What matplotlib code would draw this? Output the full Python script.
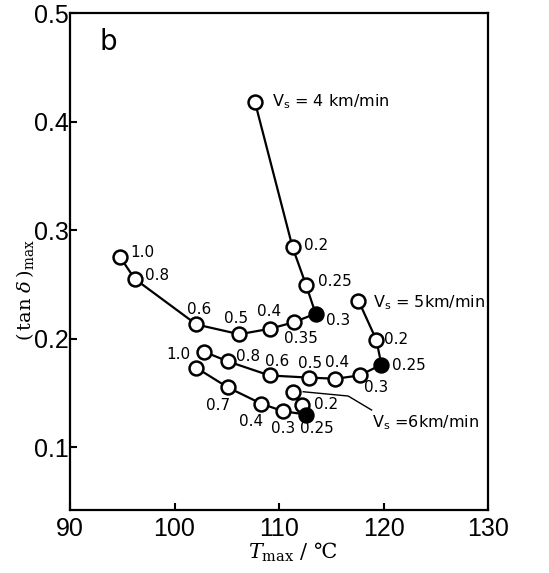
import matplotlib
matplotlib.use("Agg")
import matplotlib.pyplot as plt
import matplotlib.transforms as mtransforms
from matplotlib.lines import Line2D

plt.rcParams['font.family'] = ['DejaVu Sans']
plt.rcParams['mathtext.fontset'] = 'dejavuserif'

# ---- data ----
t4 = [107.7, 111.3, 112.6, 113.5, 111.4, 109.1, 106.2, 102.1, 96.2, 94.8]
d4 = [0.418, 0.284, 0.249, 0.223, 0.215, 0.209, 0.204, 0.213, 0.255, 0.275]
lab4 = ["", "0.2", "0.25", "0.3", "0.35", "0.4", "0.5", "0.6", "0.8", "1.0"]
fill4 = [False, False, False, True, False, False, False, False, False, False]

t5 = [117.6, 119.3, 119.8, 117.7, 115.4, 112.9, 109.1, 105.1, 102.8]
d5 = [0.235, 0.199, 0.176, 0.166, 0.163, 0.164, 0.166, 0.179, 0.188]
lab5 = ["", "0.2", "0.25", "0.3", "0.4", "0.5", "0.6", "0.8", "1.0"]
fill5 = [False, False, True, False, False, False, False, False, False]

t6 = [111.3, 112.2, 112.6, 110.4, 108.3, 105.1, 102.1]
d6 = [0.151, 0.139, 0.130, 0.133, 0.140, 0.155, 0.173]
lab6 = ["", "0.2", "0.25", "0.3", "0.4", "0.7", ""]
fill6 = [False, False, True, False, False, False, False]

series_names = ["V$_\\mathsf{s}$ = 4 km/min", "V$_\\mathsf{s}$ = 5km/min", "V$_\\mathsf{s}$ =6km/min"]

xticks = [90, 100, 110, 120, 130]
yticks = [0.1, 0.2, 0.3, 0.4, 0.5]

# ---- label layout (pixel offsets: dx right, dy up, ha) ----
off4 = [None, (11, 2, 'left'), (12, 4, 'left'), (10, -7, 'left'), (7, -16, 'center'),
        (-1, 17, 'center'), (-3, 16, 'center'), (3, 15, 'center'), (10, 3, 'left'), (10, 5, 'left')]
off5 = [None, (8, 0, 'left'), (11, -1, 'left'), (17, -12, 'center'), (2, 16, 'center'),
        (1, 14, 'center'), (8, 14, 'center'), (8, 5, 'left'), (-13, -3, 'right')]
off6 = [None, (12, 0, 'left'), (11, -14, 'center'), (0, -17, 'center'), (-10, -18, 'center'),
        (-10, -18, 'center'), None]

fig = plt.figure(figsize=(5.49, 5.73), dpi=100)
ax = fig.add_axes([0.1275, 0.110, 0.7615, 0.867])
ax.set_xlim(90, 130)
ax.set_ylim(0.042, 0.5)

lw = 1.6
ms = 10
for t, d, labs, fills, offs in [(t4, d4, lab4, fill4, off4), (t5, d5, lab5, fill5, off5), (t6, d6, lab6, fill6, off6)]:
    ax.plot(t, d, '-', color='black', lw=lw, zorder=2)
    for x, y, f in zip(t, d, fills):
        ax.plot([x], [y], 'o', ms=ms, mfc='black' if f else 'white', mec='black', mew=1.8, zorder=3)
    for x, y, s, o in zip(t, d, labs, offs):
        if s and o:
            ax.annotate(s, (x, y), xytext=(o[0], o[1]), textcoords='offset pixels',
                        ha=o[2], va='center', fontsize=11)

# series labels
ax.annotate(series_names[0], (t4[0], d4[0]), xytext=(17, 0), textcoords='offset pixels',
            ha='left', va='center', fontsize=11.5)
ax.annotate(series_names[1], (t5[0], d5[0]), xytext=(15, -2), textcoords='offset pixels',
            ha='left', va='center', fontsize=11.5)
ax.annotate(series_names[2], (t6[0], d6[0]), xytext=(79, -31), textcoords='offset pixels',
            ha='left', va='center', fontsize=11.5)

# leader line for Vs = 6 (pixel offsets from the first point)
px = [10.6, 55.6, 79.0]
py = [0.0, -4.3, -18.3]
p0 = ax.transData.transform((t6[0], d6[0]))
line = Line2D([p0[0] + a for a in px], [p0[1] + b for b in py],
              transform=mtransforms.IdentityTransform(), color='black', lw=1.0)
fig.add_artist(line)

ax.set_xticks(xticks)
ax.set_xticklabels([str(v) for v in xticks], family='Liberation Sans')
ax.set_yticks(yticks)
ax.set_yticklabels([f"{v:.1f}" for v in yticks], family='Liberation Sans')
ax.tick_params(direction='in', length=5, width=1.5, labelsize=18)
ax.tick_params(axis='y', pad=1)
ax.tick_params(axis='x', pad=5)
for sp in ax.spines.values():
    sp.set_linewidth(1.6)

ax.set_xlabel("$T_{\\mathrm{max}}$ / \u2103", fontsize=15, family='DejaVu Serif')
ax.xaxis.set_label_coords(0.533, -0.062)
ax.set_ylabel("$(\\,\\tan\\,\\delta\\,)_{\\mathrm{max}}$", fontsize=14)
ax.yaxis.set_label_coords(-0.082, 0.443)

ax.text(0.091, 0.942, "b", transform=ax.transAxes, fontsize=20, ha='center', va='center')

fig.savefig("out.png", dpi=100)
